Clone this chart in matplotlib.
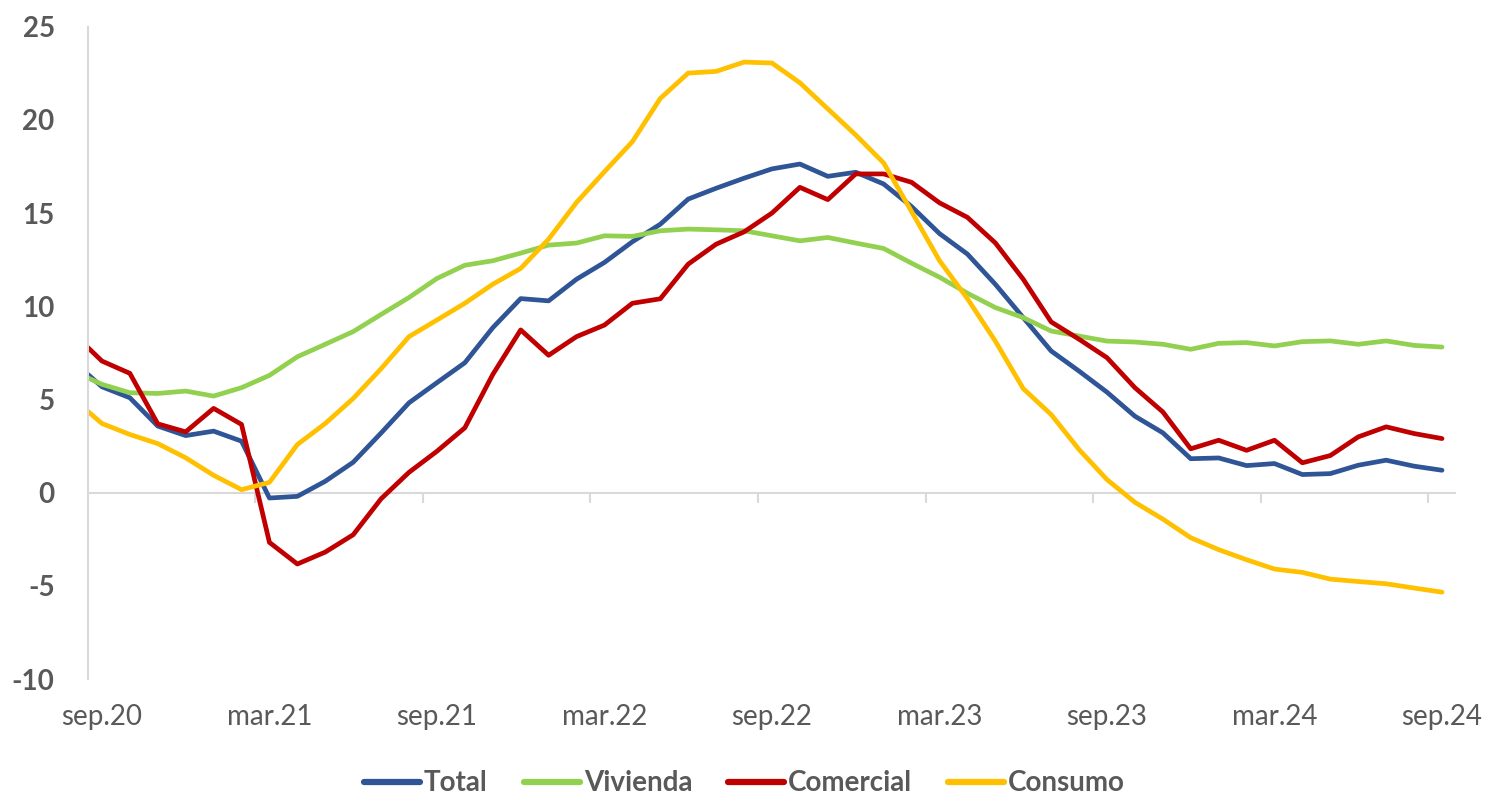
import numpy as np
import matplotlib
matplotlib.use("Agg")
import matplotlib.pyplot as plt

# monthly series, aug.20 (clipped at the axis edge) to sep.24
total = [7.0,
         5.68, 5.09, 3.57, 3.06, 3.30, 2.76, -0.29, -0.20, 0.61, 1.63,
         3.2, 4.82, 5.90, 6.97, 8.85, 10.41, 10.29, 11.45, 12.35, 13.46,
         14.4, 15.75, 16.33, 16.87, 17.37, 17.63, 16.97, 17.19, 16.56, 15.35,
         13.9, 12.80, 11.18, 9.39, 7.60, 6.52, 5.39, 4.10, 3.21, 1.82,
         1.86, 1.45, 1.56, 0.97, 1.02, 1.47, 1.74, 1.42, 1.20]
vivienda = [6.5,
            5.81, 5.36, 5.32, 5.45, 5.18, 5.63, 6.29, 7.29, 7.96, 8.64,
            9.56, 10.47, 11.49, 12.20, 12.44, 12.85, 13.28, 13.39, 13.78, 13.75,
            14.05, 14.14, 14.10, 14.05, 13.78, 13.51, 13.69, 13.39, 13.10, 12.31,
            11.56, 10.70, 9.93, 9.39, 8.67, 8.40, 8.13, 8.08, 7.96, 7.69,
            8.01, 8.05, 7.87, 8.10, 8.14, 7.96, 8.14, 7.90, 7.81]
comercial = [8.5,
             7.06, 6.40, 3.69, 3.26, 4.52, 3.66, -2.67, -3.83, -3.19, -2.26,
             -0.33, 1.09, 2.22, 3.48, 6.34, 8.73, 7.37, 8.37, 8.99, 10.16,
             10.40, 12.26, 13.33, 13.99, 15.0, 16.38, 15.72, 17.10, 17.10, 16.65,
             15.55, 14.77, 13.40, 11.45, 9.16, 8.23, 7.24, 5.63, 4.33, 2.35,
             2.81, 2.27, 2.81, 1.60, 1.99, 2.99, 3.53, 3.17, 2.90]
consumo = [5.0,
           3.71, 3.12, 2.63, 1.87, 0.93, 0.16, 0.55, 2.58, 3.71, 5.05,
           6.65, 8.37, 9.26, 10.16, 11.18, 12.03, 13.60, 15.57, 17.22, 18.83,
           21.15, 22.51, 22.60, 23.10, 23.05, 21.99, 20.59, 19.19, 17.69, 15.08,
           12.45, 10.41, 8.13, 5.58, 4.19, 2.31, 0.70, -0.52, -1.42, -2.42,
           -3.06, -3.60, -4.10, -4.28, -4.64, -4.77, -4.89, -5.12, -5.34]

tick_labels = ['sep.20', 'mar.21', 'sep.21', 'mar.22', 'sep.22',
               'mar.23', 'sep.23', 'mar.24', 'sep.24']
series = [('Total', total, '#2F5597'),
          ('Vivienda', vivienda, '#92D050'),
          ('Comercial', comercial, '#C00000'),
          ('Consumo', consumo, '#FFC000')]

plt.rcParams['font.family'] = ['Lato', 'DejaVu Sans']
grey = '#595959'
axis_grey = '#D9D9D9'

fig = plt.figure(figsize=(14.91, 8.01), dpi=100)
ax = fig.add_axes([0.059, 0.1523, 0.9175, 0.8144])

x = np.arange(len(total)) - 1  # index 0 = sep.20
for name, vals, col in series:
    ax.plot(x, vals, color=col, lw=3.4, label=name,
            solid_capstyle='round', solid_joinstyle='round')

ax.set_xlim(-0.5, 48.5)
ax.set_ylim(-10, 25)

for s in ['top', 'right', 'bottom']:
    ax.spines[s].set_visible(False)
ax.spines['left'].set_color(axis_grey)
ax.spines['left'].set_linewidth(1.5)

ax.axhline(0, color=axis_grey, lw=1.5, zorder=0.5)
bounds = np.arange(5.5, 48, 6)
ax.vlines(bounds, -0.55, 0, color=axis_grey, lw=1.5, zorder=0.5)

ax.set_xticks(np.arange(0, 49, 6))
ax.set_xticklabels(tick_labels, fontsize=20, color=grey)
ax.tick_params(axis='x', length=0, pad=18)

ax.set_yticks(np.arange(-10, 26, 5))
ax.set_yticklabels([str(v) for v in range(-10, 26, 5)], fontsize=20,
                   fontweight='bold', color=grey)
ax.tick_params(axis='y', length=0, pad=24)

leg = ax.legend(loc='center', bbox_to_anchor=(0.48, -0.16), ncol=4,
                frameon=False, handlelength=2.0, handletextpad=0.15,
                columnspacing=1.3, prop={'size': 20, 'weight': 'bold'})
for t in leg.get_texts():
    t.set_color(grey)
for h in leg.get_lines():
    h.set_linewidth(4.5)
    h.set_solid_capstyle('round')

fig.savefig('out.png', dpi=100)
